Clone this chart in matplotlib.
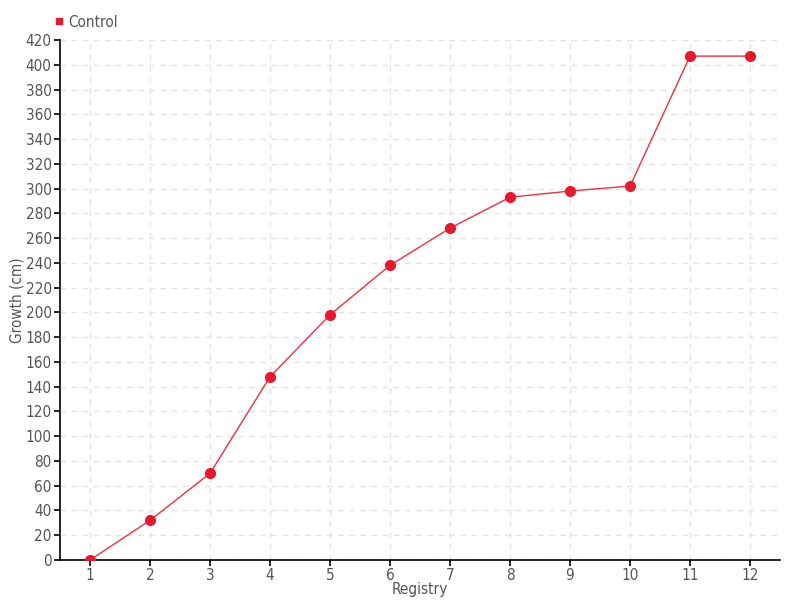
import matplotlib
matplotlib.use('Agg')
import matplotlib.pyplot as plt
from matplotlib.lines import Line2D

registry = [1, 2, 3, 4, 5, 6, 7, 8, 9, 10, 11, 12]
control = [0, 32, 70, 148, 198, 238, 268, 293, 298, 302, 407, 407]
yticks = list(range(0, 421, 20))

plt.rcParams['font.family'] = ['DejaVu Sans']
plt.rcParams['font.stretch'] = 'condensed'

fig = plt.figure(figsize=(8, 6), dpi=100)
ax = fig.add_axes([60 / 800, 40 / 600, 720 / 800, 520 / 600])

red = '#e8192c'
ax.plot(registry, control, color='#f0303f', linewidth=1, zorder=3)
ax.plot(registry, control, 'o', color=red, markersize=7, zorder=4)

ax.set_xlim(0.5, 12.5)
ax.set_ylim(0, 420)
ax.set_xticks(registry)
ax.set_yticks(yticks)
ax.grid(True, linestyle=(0, (4, 4)), color='#e2e2e2', linewidth=1)
ax.set_axisbelow(True)

for s in ['top', 'right']:
    ax.spines[s].set_visible(False)
ax.spines['left'].set_linewidth(1.2)
ax.spines['bottom'].set_linewidth(1.2)
ax.tick_params(axis='both', labelsize=11, labelcolor='#555555', length=4, width=1.2, pad=2)

ax.set_xlabel('Registry', fontsize=11, color='#555555', labelpad=-1)
ax.set_ylabel('Growth (cm)', fontsize=11, color='#555555', labelpad=1)

handle = Line2D([], [], marker='s', color=red, linestyle='none', markersize=4)
fig.legend([handle], ['Control'], loc='upper left', bbox_to_anchor=(44 / 800, 1 - 7 / 600),
           frameon=False, fontsize=11, labelcolor='#555555', handletextpad=0.1,
           handlelength=1, borderpad=0)

fig.savefig('out.png', dpi=100)
